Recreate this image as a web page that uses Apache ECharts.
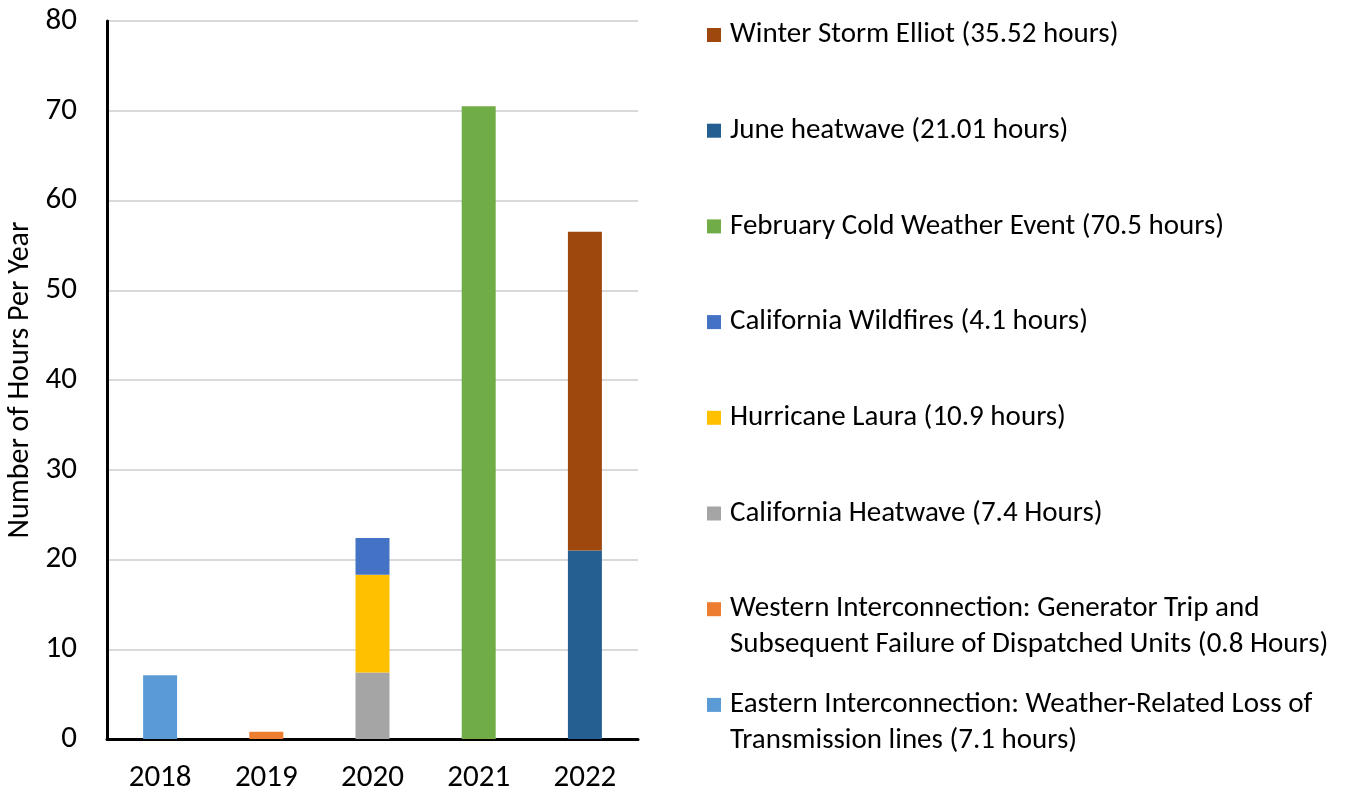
<!DOCTYPE html>
<html>
<head>
<meta charset="utf-8">
<script src="https://cdn.jsdelivr.net/npm/echarts@6/dist/echarts.min.js"></script>
<style>
  html, body { margin: 0; padding: 0; background: #fff; }
  #chart { width: 1349px; height: 794px; }
</style>
</head>
<body>
<div id="chart"></div>
<script>
// Hours per year of reliability events, stacked by event
const years = ['2018', '2019', '2020', '2021', '2022'];

const eventNames = [
  'Eastern Interconnection: Weather-Related Loss of\nTransmission lines (7.1 hours)',
  'Western Interconnection: Generator Trip and\nSubsequent Failure of Dispatched Units (0.8 Hours)',
  'California Heatwave (7.4 Hours)',
  'Hurricane Laura (10.9 hours)',
  'California Wildfires (4.1 hours)',
  'February Cold Weather Event (70.5 hours)',
  'June heatwave (21.01 hours)',
  'Winter Storm Elliot (35.52 hours)'
];

const eventColors = ['#5B9BD5', '#ED7D31', '#A5A5A5', '#FFC000', '#4472C4', '#70AD47', '#255E91', '#9E480E'];

// one value per year for each event (null where the event did not occur)
const easternLoss     = [7.1, null, null, null, null];
const westernTrip     = [null, 0.8, null, null, null];
const caHeatwave      = [null, null, 7.4, null, null];
const hurricaneLaura  = [null, null, 10.9, null, null];
const caWildfires     = [null, null, 4.1, null, null];
const febColdWeather  = [null, null, null, 70.5, null];
const juneHeatwave    = [null, null, null, null, 21.01];
const winterStorm     = [null, null, null, null, 35.52];

const eventValues = [easternLoss, westernTrip, caHeatwave, hurricaneLaura, caWildfires, febColdWeather, juneHeatwave, winterStorm];

const yTicks = [0, 10, 20, 30, 40, 50, 60, 70, 80];

const FONT = 'Carlito, Lato, "Open Sans", sans-serif';

const chart = echarts.init(document.getElementById('chart'), null, { renderer: 'canvas' });

const series = eventNames.map((name, i) => ({
  name: name,
  type: 'bar',
  stack: 'hours',
  barWidth: '32%',
  data: eventValues[i],
  itemStyle: { color: eventColors[i] },
  emphasis: { disabled: true }
}));

// legend drawn top-down in reverse stacking order, icon on the first text line
const legendLeft = 707;
const legendTop = 35;
const legendStep = 95.7;
const legendGraphics = [];
for (let k = 0; k < eventNames.length; k++) {
  const i = eventNames.length - 1 - k;
  const cy = legendTop + k * legendStep;
  legendGraphics.push({
    type: 'rect',
    left: legendLeft,
    top: cy - 7,
    shape: { width: 14, height: 14 },
    style: { fill: eventColors[i] }
  });
  legendGraphics.push({
    type: 'text',
    left: legendLeft + 23,
    top: cy - 18,
    style: {
      text: eventNames[i],
      font: '29px ' + FONT,
      fill: '#000',
      lineHeight: 36
    }
  });
}

chart.setOption({
  animation: false,
  textStyle: { fontFamily: FONT },
  grid: { left: 107, right: 711, top: 21, bottom: 53, containLabel: false },
  xAxis: {
    type: 'category',
    data: years,
    axisLine: { show: true, lineStyle: { color: '#000', width: 3 } },
    axisTick: { show: false },
    axisLabel: { color: '#000', fontSize: 31, margin: 24, fontFamily: FONT }
  },
  yAxis: {
    type: 'value',
    min: yTicks[0],
    max: yTicks[yTicks.length - 1],
    interval: 10,
    name: 'Number of Hours Per Year',
    nameLocation: 'middle',
    nameGap: 72,
    nameTextStyle: { color: '#000', fontSize: 30, fontFamily: FONT },
    axisLine: { show: true, lineStyle: { color: '#000', width: 3 } },
    axisTick: { show: false },
    axisLabel: { color: '#000', fontSize: 31, margin: 30, fontFamily: FONT },
    splitLine: { lineStyle: { color: '#D9D9D9', width: 2 } }
  },
  legend: { show: false },
  series: series,
  graphic: legendGraphics
});
</script>
</body>
</html>
